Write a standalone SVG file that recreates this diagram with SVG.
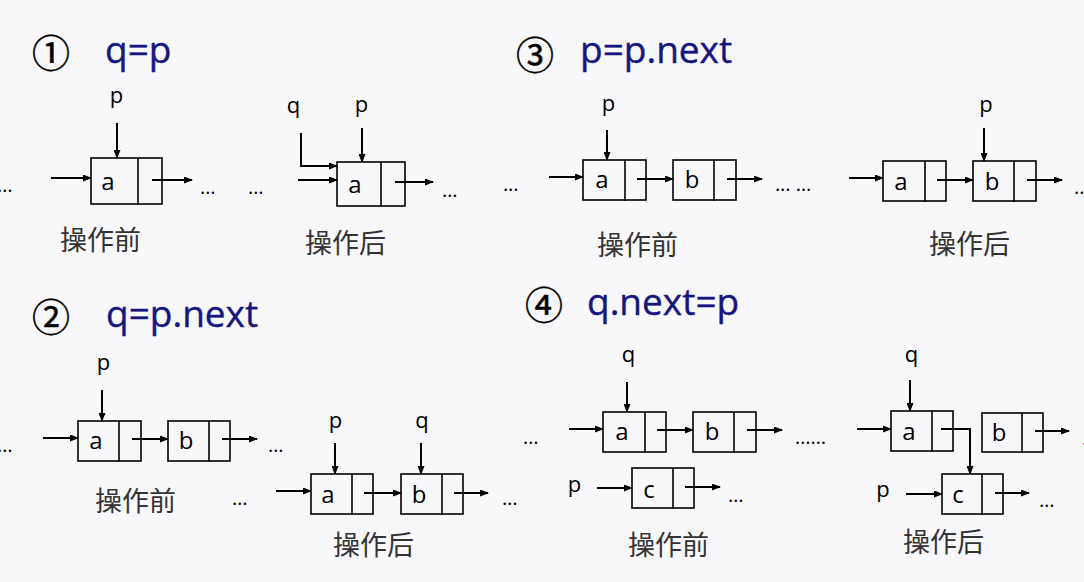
<svg xmlns="http://www.w3.org/2000/svg" width="1084" height="582" viewBox="0 0 1084 582">
<defs>
<marker id="ah" markerUnits="userSpaceOnUse" markerWidth="9" markerHeight="7" refX="8" refY="3.5" orient="auto">
<path d="M0,0 L9,3.5 L0,7 z" fill="#000"/>
</marker>
<style>
.box{fill:none;stroke:#000;stroke-width:1.6}
.div{stroke:#000;stroke-width:1.6}
.c{fill:none;stroke:#000;stroke-width:2;marker-end:url(#ah)}
.t{font-family:"Open Sans","Liberation Sans",sans-serif;font-size:22px;fill:#000;text-anchor:middle}
.v{font-family:"Open Sans","Liberation Sans",sans-serif;font-size:24px;fill:#000;text-anchor:middle}
.d{font-family:"Open Sans","Liberation Sans",sans-serif;font-size:20px;fill:#000}
.h{font-family:"Open Sans","Liberation Sans",sans-serif;font-size:37px;fill:#16167f;stroke:#16167f;stroke-width:0.4}
.n{font-family:"Noto Sans CJK SC","Noto Sans",sans-serif;font-size:38px;fill:#000;stroke:#000;stroke-width:0.5;text-anchor:middle}
.z{font-family:"Noto Sans CJK SC",sans-serif;font-size:27px;fill:#333}
</style>
</defs>
<rect width="1084" height="582" fill="#f8f8fa"/>

<g id="titles">
<text class="n" x="51" y="67">①</text><text class="h" x="105" y="63">q=p</text>
<text class="n" x="535" y="69">③</text><text class="h" x="580" y="63">p=p.next</text>
<text class="n" x="51" y="331">②</text><text class="h" x="106" y="327">q=p.next</text>
<text class="n" x="544" y="319">④</text><text class="h" x="587" y="315">q.next=p</text>
</g>

<g id="captions">
<text class="z" x="60" y="250">操作前</text>
<text class="z" x="305" y="253">操作后</text>
<text class="z" x="597" y="255">操作前</text>
<text class="z" x="929" y="254">操作后</text>
<text class="z" x="95" y="511">操作前</text>
<text class="z" x="333" y="555">操作后</text>
<text class="z" x="628" y="555">操作前</text>
<text class="z" x="903" y="552">操作后</text>
</g>

<g id="ellipses">
<text class="d" x="-3" y="192">…</text>
<text class="d" x="200" y="194">…</text>
<text class="d" x="248" y="194">…</text>
<text class="d" x="442" y="197">…</text>
<text class="d" x="503" y="191">…</text>
<text class="d" x="775" y="191">… …</text>
<text class="d" x="1074" y="194">…</text>
<text class="d" x="-3" y="452">…</text>
<text class="d" x="268" y="452">…</text>
<text class="d" x="232" y="505">…</text>
<text class="d" x="502" y="505">…</text>
<text class="d" x="523" y="444">…</text>
<text class="d" x="795" y="444">……</text>
<text class="d" x="728" y="502">…</text>
<text class="d" x="1082" y="445">…</text>
<text class="d" x="1039" y="507">…</text>
</g>

<g id="pointers">
<text class="t" x="116.5" y="103">p</text>
<text class="t" x="293.5" y="113">q</text>
<text class="t" x="361.5" y="112">p</text>
<text class="t" x="608.5" y="111">p</text>
<text class="t" x="986" y="112">p</text>
<text class="t" x="103.5" y="370">p</text>
<text class="t" x="335.5" y="428">p</text>
<text class="t" x="422" y="428">q</text>
<text class="t" x="628.5" y="362">q</text>
<text class="t" x="574.5" y="492">p</text>
<text class="t" x="911.5" y="362">q</text>
<text class="t" x="883" y="497">p</text>
</g>

<g id="n1a"><rect class="box" x="91" y="158" width="71" height="46"/><line class="div" x1="138" y1="158" x2="138" y2="205"/><text class="v" x="108" y="190">a</text></g>
<g id="n1a2"><rect class="box" x="337" y="162" width="68" height="44"/><line class="div" x1="381" y1="162" x2="381" y2="207"/><text class="v" x="355" y="193">a</text></g>

<g id="n3a"><rect class="box" x="583" y="160" width="63" height="40"/><line class="div" x1="625" y1="160" x2="625" y2="201"/><text class="v" x="602" y="188">a</text></g>
<g id="n3b"><rect class="box" x="673" y="160" width="63" height="40"/><line class="div" x1="714" y1="160" x2="714" y2="201"/><text class="v" x="692" y="188">b</text></g>
<g id="n3a2"><rect class="box" x="883" y="161" width="63" height="40"/><line class="div" x1="925" y1="161" x2="925" y2="202"/><text class="v" x="901" y="190">a</text></g>
<g id="n3b2"><rect class="box" x="973" y="161" width="63" height="40"/><line class="div" x1="1014" y1="161" x2="1014" y2="202"/><text class="v" x="992" y="190">b</text></g>

<g id="n2a"><rect class="box" x="78" y="421" width="63" height="40"/><line class="div" x1="119" y1="421" x2="119" y2="462"/><text class="v" x="96" y="449">a</text></g>
<g id="n2b"><rect class="box" x="168" y="421" width="62" height="40"/><line class="div" x1="209" y1="421" x2="209" y2="462"/><text class="v" x="186" y="449">b</text></g>
<g id="n2a2"><rect class="box" x="311" y="474" width="62" height="40"/><line class="div" x1="352" y1="474" x2="352" y2="515"/><text class="v" x="328" y="503">a</text></g>
<g id="n2b2"><rect class="box" x="401" y="474" width="62" height="40"/><line class="div" x1="442" y1="474" x2="442" y2="515"/><text class="v" x="419" y="503">b</text></g>

<g id="n4a"><rect class="box" x="603" y="412" width="63" height="40"/><line class="div" x1="645" y1="412" x2="645" y2="453"/><text class="v" x="622" y="440">a</text></g>
<g id="n4b"><rect class="box" x="693" y="412" width="63" height="40"/><line class="div" x1="734" y1="412" x2="734" y2="453"/><text class="v" x="712" y="440">b</text></g>
<g id="n4c"><rect class="box" x="632" y="468" width="62" height="40"/><line class="div" x1="673" y1="468" x2="673" y2="509"/><text class="v" x="649" y="498">c</text></g>
<g id="n4a2"><rect class="box" x="891" y="411" width="62" height="40"/><line class="div" x1="932" y1="411" x2="932" y2="452"/><text class="v" x="909" y="440">a</text></g>
<g id="n4b2"><rect class="box" x="982" y="413" width="61" height="39"/><line class="div" x1="1022" y1="413" x2="1022" y2="453"/><text class="v" x="999" y="441">b</text></g>
<g id="n4c2"><rect class="box" x="942" y="474" width="61" height="40"/><line class="div" x1="982" y1="474" x2="982" y2="515"/><text class="v" x="958" y="503">c</text></g>

<g id="connectors">
<path class="c" d="M117,123 V158"/>
<path class="c" d="M51,178 H91"/>
<path class="c" d="M152,180 H192"/>
<path class="c" d="M301,133 V166 H337"/>
<path class="c" d="M362,128 V162"/>
<path class="c" d="M298,180 H337"/>
<path class="c" d="M395,182 H433"/>

<path class="c" d="M607,130 V160"/>
<path class="c" d="M549,177 H583"/>
<path class="c" d="M637,179 H673"/>
<path class="c" d="M727,179 H762"/>
<path class="c" d="M984,128 V161"/>
<path class="c" d="M849,178 H883"/>
<path class="c" d="M937,180 H973"/>
<path class="c" d="M1027,180 H1062"/>

<path class="c" d="M102,390 V421"/>
<path class="c" d="M43,438 H78"/>
<path class="c" d="M132,439 H168"/>
<path class="c" d="M222,439 H257"/>
<path class="c" d="M335,443 V474"/>
<path class="c" d="M421,443 V474"/>
<path class="c" d="M276,491 H311"/>
<path class="c" d="M364,493 H401"/>
<path class="c" d="M454,493 H488"/>

<path class="c" d="M627,382 V412"/>
<path class="c" d="M569,429 H603"/>
<path class="c" d="M657,430 H693"/>
<path class="c" d="M747,430 H782"/>
<path class="c" d="M597,488 H632"/>
<path class="c" d="M685,487 H720"/>
<path class="c" d="M910,380 V411"/>
<path class="c" d="M857,429 H891"/>
<path class="c" d="M941,429 H970 V474"/>
<path class="c" d="M1035,431 H1069"/>
<path class="c" d="M906,494 H942"/>
<path class="c" d="M995,493 H1029"/>
</g>
</svg>
